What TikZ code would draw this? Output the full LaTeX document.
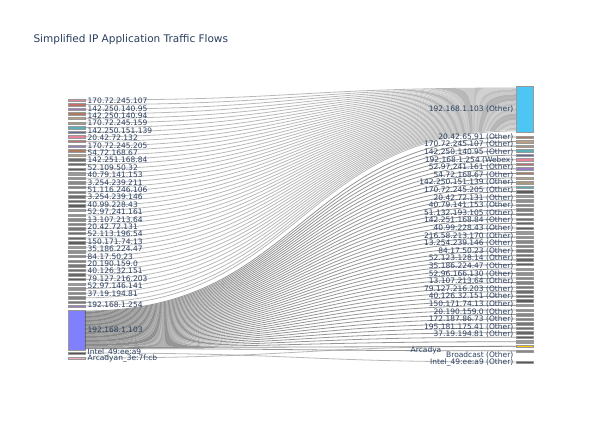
\documentclass[tikz,border=0pt]{standalone}
\usepackage{fontspec}
\setmainfont{DejaVu Sans}
\definecolor{c0}{HTML}{E8849A}
\definecolor{c1}{HTML}{C0706A}
\definecolor{c2}{HTML}{9A7CC0}
\definecolor{c3}{HTML}{B07A60}
\definecolor{c4}{HTML}{B8A080}
\definecolor{c5}{HTML}{A89880}
\definecolor{c6}{HTML}{5AB0B8}
\definecolor{c7}{HTML}{6A6A9A}
\definecolor{dk}{HTML}{555555}
\definecolor{txt}{HTML}{2A3F5F}
\tikzset{
  bar/.style={draw=dk!60,line width=0.3pt,minimum width=17pt,minimum height=2.4pt,inner sep=0pt},
  lnk/.style={draw=black!55,line width=0.8pt,opacity=0.5},
  lbl/.style={font=\fontsize{7.5}{7.5}\selectfont,text=txt,inner sep=0.5pt},
}
\begin{document}
\begin{tikzpicture}[x=1pt,y=-1pt]
\useasboundingbox[fill=white] (0,0) rectangle (602,430);
\node[anchor=west,font=\fontsize{10.5}{12}\selectfont,text=txt] (title) at (30,40) {Simplified IP Application Traffic Flows};
% big nodes
\node[draw=dk!60,fill=blue!50!white,minimum width=17pt,minimum height=40pt,inner sep=0pt] (BL) at (76.5,330) {};
\node[draw=dk!60,fill=cyan!70!white,minimum width=17pt,minimum height=46pt,inner sep=0pt] (BR) at (524.5,109) {};
% left small -> right big
\foreach \i in {0,...,44}{
  \pgfmathsetmacro\y{100+\i*4.6}
  \pgfmathsetmacro\t{88+\i*0.95}
  \pgfmathsetmacro\c{int(mod(\i,8))}
  \ifnum\i<13 \def\fc{c\c}\else\def\fc{dk!\the\numexpr 60+10*\c/2\relax}\fi
  \node[bar,fill=\fc] (L\i) at (76.5,\y) {};
  \draw[lnk] (L\i.east) .. controls (300,\y) and (300,\t) .. (BR.west |- 0,\t);
}
\node[bar,fill=c2] (L45) at (76.5,306) {};
\draw[lnk] (L45.east) .. controls (300,306) and (300,131) .. (BR.west |- 0,131);
% big left -> right small
\foreach \j in {0,...,47}{
  \pgfmathsetmacro\y{137+\j*4.55}
  \pgfmathsetmacro\s{311+\j*0.8}
  \pgfmathsetmacro\c{int(mod(\j+3,8))}
  \ifnum\j<12 \def\fc{c\c}\else\def\fc{dk!\the\numexpr 60+10*\c/2\relax}\fi
  \ifnum\j=46 \def\fc{yellow!60!orange}\fi
  \node[bar,fill=\fc] (R\j) at (524.5,\y) {};
  \draw[lnk,draw=black!75,opacity=0.55] (BL.east |- 0,\s) .. controls (300,\s) and (300,\y) .. (R\j.west);
}
\node[bar,fill=dk] (LI) at (76.5,353) {};
\node[bar,fill=c0!70] (LA) at (76.5,358) {};
\node[bar,fill=dk] (RI) at (524.5,362) {};
\draw[lnk] (LI.east) .. controls (300,353) and (300,362) .. (RI.west);
\draw[lnk] (LA.east) .. controls (300,358) and (300,346) .. (R46.west);
% left labels
\foreach \n [count=\k from 0] in {170.72.245.107,142.250.140.95,142.250.140.94,170.72.245.159,142.250.151.139,20.42.72.132,170.72.245.205,54.72.168.67,142.251.168.84,52.109.50.32,40.79.141.153,3.254.239.211,51.116.246.106,3.254.239.146,40.99.228.43,52.97.241.161,13.107.213.64,20.42.72.131,52.113.196.54,150.171.74.13,35.186.224.47,84.17.50.23,20.190.159.0,40.126.32.151,79.127.216.203,52.97.146.141,37.19.194.81}{
  \pgfmathsetmacro\y{101+\k*7.4}
  \node[lbl,anchor=west] (ll\k) at (87,\y) {\n};
}
\node[lbl,anchor=west] (llg) at (87,305) {192.168.1.254};
\node[lbl,anchor=west] (llb) at (87,330) {192.168.1.103};
\node[lbl,anchor=west] (lli) at (87,353) {Intel\_49:ee:a9};
\node[lbl,anchor=west] (lla) at (87,359) {Arcadyan\_3e:7f:cb};
% right labels
\node[lbl,anchor=east] (rlb) at (514,109) {192.168.1.103 (Other)};
\foreach \n [count=\k from 0] in {20.42.65.91,170.72.245.107,142.250.140.95,192.168.1.254 (Webex),52.97.241.161,54.72.168.67,142.250.151.139,170.72.245.205,20.42.72.131,40.79.141.153,51.132.193.105,142.251.168.84,40.99.228.43,216.58.213.170,13.254.239.146,84.17.50.23,52.123.128.14,35.186.224.47,52.96.166.130,13.107.213.64,79.127.216.203,40.126.32.151,150.171.74.13,20.190.159.0,172.187.86.73,195.181.175.41,37.19.194.81}{
  \pgfmathsetmacro\y{137+\k*7.6}
  \ifnum\k=3 \node[lbl,anchor=east] (rl\k) at (514,\y) {\n};\else
  \node[lbl,anchor=east] (rl\k) at (514,\y) {\n\ (Other)};\fi
}
\node[lbl,anchor=east] (rla) at (442,350) {Arcadya};
\node[lbl,anchor=east] (rlc) at (514,355.5) {Broadcast (Other)};
\node[lbl,anchor=east] (rli) at (514,362.5) {Intel\_49:ee:a9 (Other)};
\end{tikzpicture}
\end{document}
